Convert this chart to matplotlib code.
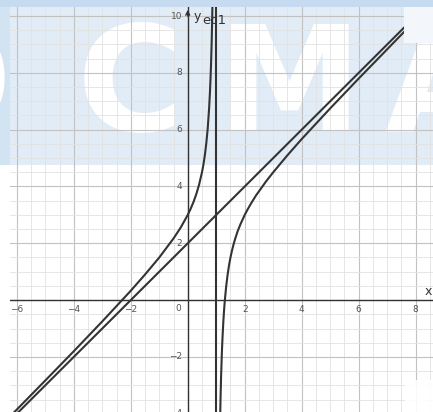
import matplotlib
matplotlib.use('Agg')
import matplotlib.pyplot as plt
from matplotlib.patches import Rectangle
from matplotlib.ticker import MultipleLocator

# ---- data ----
line_x = [-6.3, 7.6]
line_y = [-4.3, 9.6]

left_x = [-6.3, -5, -4, -3, -2, -1.5, -1, -0.5, -0.25, 0, 0.1, 0.2, 0.3, 0.4, 0.5, 0.55, 0.6,
          0.65, 0.7, 0.75, 0.78, 0.8, 0.82, 0.84, 0.86, 0.88]
left_y = [-4.16, -2.83, -1.8, -0.75, 0.33, 0.9, 1.5, 2.17, 2.55, 3.0, 3.21, 3.45, 3.73, 4.07, 4.5,
          4.77, 5.1, 5.51, 6.03, 6.75, 7.33, 7.8, 8.38, 9.09, 10.0, 11.2]

right_x = [1.13, 1.15, 1.17, 1.2, 1.22, 1.25, 1.27, 1.3, 1.35, 1.4, 1.45, 1.5, 1.55, 1.6, 1.65,
           1.75, 1.85, 2, 2.1, 2.25, 2.4, 2.5, 2.75, 3, 3.5, 4, 5, 6, 7, 7.6]
right_y = [-4.56, -3.52, -2.71, -1.8, -1.33, -0.75, -0.43, -0.03, 0.49, 0.9, 1.23, 1.5, 1.73, 1.93,
           2.11, 2.42, 2.67, 3.0, 3.19, 3.45, 3.69, 3.83, 4.18, 4.5, 5.1, 5.67, 6.75, 7.8, 8.83, 9.45]

asym_x = [1, 1]
asym_y = [-4.5, 10.5]

x_ticks = [-6, -4, -2, 2, 4, 6, 8]
y_ticks = [-4, -2, 2, 4, 6, 8, 10]

W, H = 433, 412
fig = plt.figure(figsize=(W / 100, H / 100), dpi=100)


def fy(py):
    return 1 - py / H


# watermark background
fig.patches.append(Rectangle((0, fy(165)), 1, 165 / H, transform=fig.transFigure,
                             facecolor='#d2e3f2', edgecolor='none', zorder=-3))
fig.patches.append(Rectangle((0, fy(7)), 1, 7 / H, transform=fig.transFigure,
                             facecolor='#c6dbef', edgecolor='none', zorder=-2))
for letter, cx in [('O', -50), ('C', 130), ('M', 289), ('A', 441)]:
    fig.text(cx / W, fy(131), letter, ha='center', va='baseline', fontsize=105,
             fontweight='bold', color='white', zorder=-1, family='DejaVu Sans')

ax = fig.add_axes([10 / W, 0, 1 - 10 / W, 405 / H])
ax.set_facecolor('white')
ax.patch.set_alpha(0.35)
ax.set_xlim(-6.24, 8.61)
ax.set_ylim(-3.94, 10.32)
ax.xaxis.set_major_locator(MultipleLocator(2))
ax.yaxis.set_major_locator(MultipleLocator(2))
ax.xaxis.set_minor_locator(MultipleLocator(0.5))
ax.yaxis.set_minor_locator(MultipleLocator(0.5))
ax.grid(which='major', color='#c2c2c2', lw=0.8)
ax.grid(which='minor', color='#e2e2e2', lw=0.6)
ax.set_axisbelow(True)
ax.tick_params(which='both', length=0, labelbottom=False, labelleft=False)
for s in ax.spines.values():
    s.set_visible(False)

ax.axhline(0, color='#333333', lw=1.0, zorder=2)
ax.axvline(0, color='#333333', lw=1.0, zorder=2)
ax.annotate('', xy=(0, 10.32), xytext=(0, 9.9),
            arrowprops=dict(arrowstyle='->', color='#333333', lw=1.0, mutation_scale=7),
            annotation_clip=False)

cur = dict(color='#333333', lw=1.5, zorder=3, solid_capstyle='round', solid_joinstyle='round')
ax.plot(line_x, line_y, **cur)
ax.plot(left_x, left_y, **cur)
ax.plot(right_x, right_y, **cur)
ax.plot(asym_x, asym_y, **cur)

lab = dict(fontsize=6.5, color='#555555', family='DejaVu Sans')
for v in x_ticks:
    ax.text(v, -0.32, str(v).replace('-', '\u2212'), ha='center', va='center', clip_on=True, **lab)
for v in y_ticks:
    ax.text(-0.2, v, str(v).replace('-', '\u2212'), ha='right', va='center', clip_on=True, **lab)
ax.text(-0.33, -0.3, '0', ha='center', va='center', **lab)

ax.text(0.33, 10.0, 'y', fontsize=9, color='#333333', ha='center', va='center')
ax.text(8.45, 0.3, 'x', fontsize=9, color='#333333', ha='center', va='center')
ax.text(0.92, 9.83, 'ec1', fontsize=9.5, color='#333333', ha='center', va='center')

# occluding boxes
fig.patches.append(Rectangle((404 / W, fy(43)), 29 / W, 36 / H, transform=fig.transFigure,
                             facecolor='#f3f7fc', edgecolor='none', zorder=5))
fig.patches.append(Rectangle((405 / W, 0), 28 / W, 32 / H, transform=fig.transFigure,
                             facecolor='white', edgecolor='none', alpha=0.9, zorder=5))

fig.savefig('out.png', dpi=100)
